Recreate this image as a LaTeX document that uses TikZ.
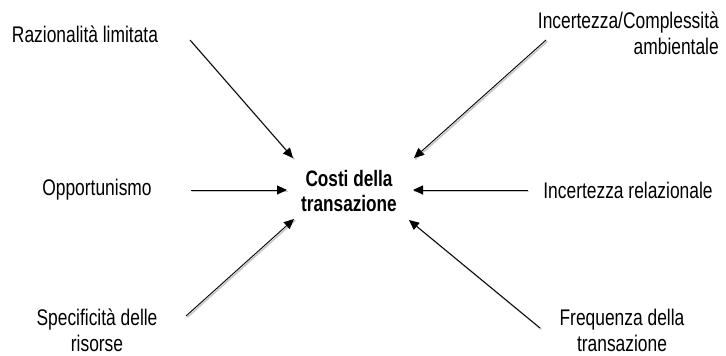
\documentclass[tikz,border=0pt]{standalone}
\usepackage{fontspec}
\setmainfont{Liberation Sans}
\usetikzlibrary{arrows.meta}
\begin{document}
\begin{tikzpicture}[x=1pt,y=-1pt,
  lbl/.style={font=\fontsize{17.4}{20}\selectfont, align=center, inner sep=0pt, transform shape, yscale=1.3},
  center/.style={font=\fontsize{17.2}{19.5}\selectfont\bfseries, align=center, inner sep=0pt, transform shape, yscale=1.3},
  arr/.style={-{Triangle[length=10pt,width=9pt]}, line width=0.9pt, black},
  shad/.style={line width=1.6pt, black!22}]
\useasboundingbox (0,0) rectangle (726,356);
\node[center] (c) at (349,191) {Costi della\\transazione};
\node[lbl] (rl) at (85,34) {Razionalità limitata};
\node[lbl, align=right, anchor=east] (ic) at (719,33) {Incertezza/Complessità\\ambientale};
\node[lbl] (op) at (97,190) {Opportunismo};
\node[lbl] (ir) at (628,190) {Incertezza relazionale};
\node[lbl] (sr) at (97,330) {Specificità delle\\risorse};
\node[lbl] (ft) at (622,330) {Frequenza della\\transazione};
\coordinate (rlS) at (190,40);  \coordinate (rlE) at (293,158);
\coordinate (icS) at (546,40);  \coordinate (icE) at (414,158);
\coordinate (opS) at (191,190); \coordinate (opE) at (287,190);
\coordinate (irS) at (528,190); \coordinate (irE) at (413,190);
\coordinate (srS) at (186,316); \coordinate (srE) at (294,219);
\coordinate (ftS) at (540,328); \coordinate (ftE) at (409,220);
\foreach \s/\e in {rlS/rlE,icS/icE,opS/opE,irS/irE,srS/srE,ftS/ftE}{
  \draw[shad] ([shift={(1.3,1.3)}]\s) -- ([shift={(1.3,1.3)}]\e);
  \draw[arr] (\s) -- (\e);
}
\end{tikzpicture}
\end{document}
